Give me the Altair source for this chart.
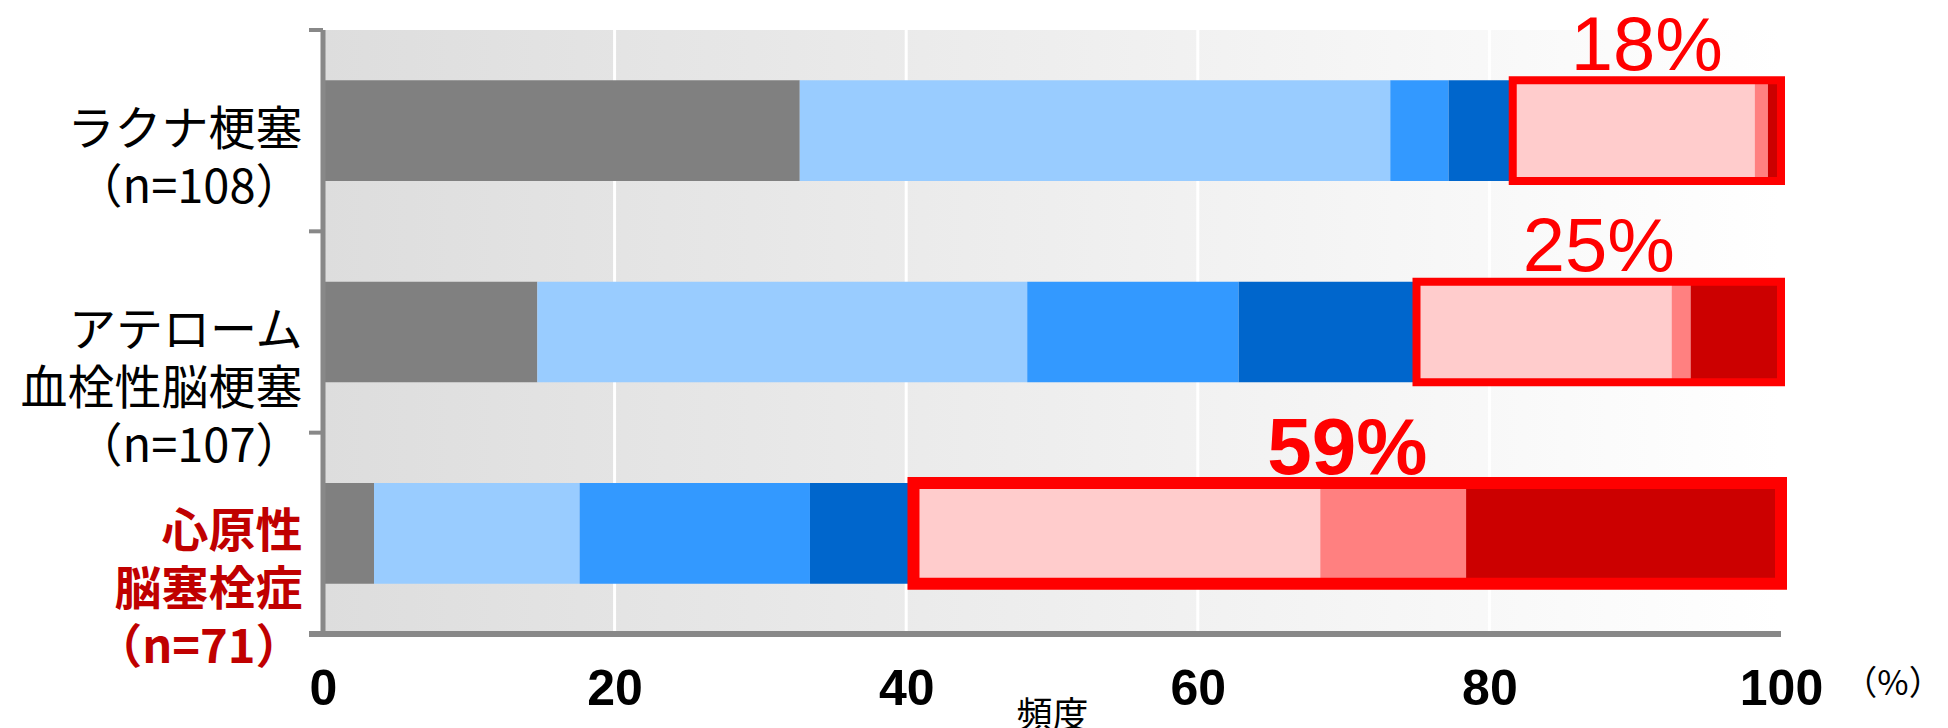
import altair as alt
import pandas as pd

# ---- data ----
categories = ["ラクナ梗塞\n（n=108）", "アテローム\n血栓性脳梗塞\n（n=107）", "心原性\n脳塞栓症\n（n=71）"]
segments = ["s0", "s1", "s2", "s3", "s4", "s5", "s6"]
seg_colors = ["#808080", "#99CCFF", "#3399FF", "#0066CC", "#FFCCCC", "#FF8080", "#CC0000"]
lacunar = [32.7, 40.5, 4.0, 4.4, 16.6, 0.9, 0.9]
athero = [14.7, 33.6, 14.5, 12.2, 17.5, 1.3, 6.2]
cardio = [3.5, 14.1, 15.8, 7.1, 27.9, 10.0, 21.6]
series = [lacunar, athero, cardio]
boxed_from = 4          # first segment inside the red box
pct_labels = ["18%", "25%", "59%"]
x_ticks = [0, 20, 40, 60, 80, 100]
grid_vals = [20, 40, 60, 80]
x_range = [0, 100]

# ---- tables ----
rows = []
for ci, (cat, vals) in enumerate(zip(categories, series)):
    for si, (seg, v) in enumerate(zip(segments, vals)):
        rows.append({"cat": cat, "i": ci, "seg": seg, "idx": si, "val": v})
df = pd.DataFrame(rows)

box_rows = []
for ci, (cat, vals) in enumerate(zip(categories, series)):
    start = sum(vals[:boxed_from])
    end = sum(vals)
    box_rows.append({"cat": cat, "i": ci, "start": start, "end": end,
                     "mid": (start + end) / 2, "label": pct_labels[ci]})
box_df = pd.DataFrame(box_rows)
last_cat = box_df[box_df["i"] == len(categories) - 1].assign(x0=x_range[0], x1=x_range[1], t="（%）")
range_df = pd.DataFrame({"x0": [x_range[0]], "x1": [x_range[1]]})

xscale = alt.Scale(domain=x_range, nice=False, zero=True)
yscale = alt.Scale(domain=categories, paddingInner=0, paddingOuter=0)
XT = "頻度"
AXIS_GREY = "#888888"

red_test = "indexof(datum.value, '心原性') >= 0"
y_axis = alt.Axis(
    title=None,
    labelExpr="split(datum.label, '\\n')",
    labelFont="Noto Sans CJK JP", labelFontSize=47, labelLineHeight=58,
    labelColor={"condition": {"test": red_test, "value": "#C00000"}, "value": "#000000"},
    labelFontWeight={"condition": {"test": red_test, "value": "bold"}, "value": "normal"},
    labelPadding=21, labelLimit=600, labelBaseline="middle", labelAlign="right",
    ticks=False, domain=False, grid=False,
)
x_axis = alt.Axis(
    values=x_ticks, title=XT,
    labelFont="Liberation Sans", labelFontSize=50, labelFontWeight="bold",
    labelColor="#000000", labelPadding=30, labelFlush=False, labelOverlap=False,
    ticks=False, domain=False, grid=False,
    titleFont="Noto Sans CJK JP", titleFontSize=36, titleFontWeight="normal",
    titleColor="#000000", titlePadding=-15,
)

bg = alt.Chart(range_df).mark_rect(
    fill=alt.LinearGradient(
        gradient="linear",
        stops=[alt.GradientStop(color="#DDDDDD", offset=0),
               alt.GradientStop(color="#FFFFFF", offset=1)],
        x1=0, x2=1, y1=0, y2=0,
    )
).encode(
    x=alt.X("x0:Q", scale=xscale, title=XT),
    x2="x1:Q",
)

grid = alt.Chart(pd.DataFrame({"g": grid_vals})).mark_rule(color="#FFFFFF", strokeWidth=3).encode(
    x=alt.X("g:Q", scale=xscale, title=XT),
)

bars = alt.Chart(df).mark_bar(height=alt.RelativeBandSize(band=0.5)).encode(
    x=alt.X("val:Q", stack="zero", scale=xscale, axis=x_axis, title=XT),
    y=alt.Y("cat:N", scale=yscale, axis=y_axis),
    color=alt.Color("seg:N", scale=alt.Scale(domain=segments, range=seg_colors), legend=None),
    order=alt.Order("idx:Q"),
)

box = alt.Chart(box_df).mark_bar(
    height=alt.RelativeBandSize(band=0.5), filled=False, color="#FF0000"
).encode(
    x=alt.X("start:Q", scale=xscale, title=XT),
    x2="end:Q",
    y=alt.Y("cat:N", scale=yscale),
    strokeWidth=alt.condition("datum.i == 2", alt.value(12), alt.value(8)),
)

txt = alt.Chart(box_df).transform_filter("datum.i < 2").mark_text(
    font="Liberation Sans", fontSize=76, color="#FF0000",
    baseline="alphabetic", align="center", dy=-61,
).encode(
    x=alt.X("mid:Q", scale=xscale, title=XT),
    y=alt.Y("cat:N", scale=yscale),
    text="label:N",
)

txt_bold = alt.Chart(box_df).transform_filter("datum.i == 2").mark_text(
    font="Liberation Sans", fontSize=80, fontWeight="bold", color="#FF0000",
    baseline="alphabetic", align="center", dy=-59,
).encode(
    x=alt.X("mid:Q", scale=xscale, title=XT),
    y=alt.Y("cat:N", scale=yscale),
    text="label:N",
)

# axis lines drawn on top of the gradient
y_line = alt.Chart(range_df).mark_rule(color=AXIS_GREY, strokeWidth=5).encode(
    x=alt.X("x0:Q", scale=xscale, title=XT),
)
x_line = alt.Chart(last_cat).mark_rule(color=AXIS_GREY, strokeWidth=6).encode(
    x=alt.X("x0:Q", scale=xscale, title=XT),
    x2="x1:Q",
    y=alt.Y("cat:N", scale=yscale, bandPosition=1),
)
# y ticks at the band boundaries
ticks_top = alt.Chart(box_df).mark_rule(color=AXIS_GREY, strokeWidth=4).encode(
    x=alt.value(-14), x2=alt.value(0),
    y=alt.Y("cat:N", scale=yscale, bandPosition=0),
)
tick_bottom = alt.Chart(last_cat).mark_rule(color=AXIS_GREY, strokeWidth=6).encode(
    x=alt.value(-14), x2=alt.value(0),
    y=alt.Y("cat:N", scale=yscale, bandPosition=1),
)

unit = alt.Chart(last_cat).mark_text(
    font="Noto Sans CJK JP", fontSize=34, color="#000000",
    align="center", baseline="middle", dx=112, dy=152,
).encode(
    x=alt.X("x1:Q", scale=xscale, title=XT),
    y=alt.Y("cat:N", scale=yscale),
    text="t:N",
)

chart = alt.layer(
    bg, grid, bars, box, txt, txt_bold, y_line, x_line, ticks_top, tick_bottom, unit
).properties(
    width=1458, height=604,
    autosize=alt.AutoSizeParams(type="none"),
    padding={"left": 323, "top": 30, "right": 167, "bottom": 94},
    background="white",
).configure_view(stroke=None)

chart.save("out.html", embed_options={"renderer": "svg", "actions": False})
